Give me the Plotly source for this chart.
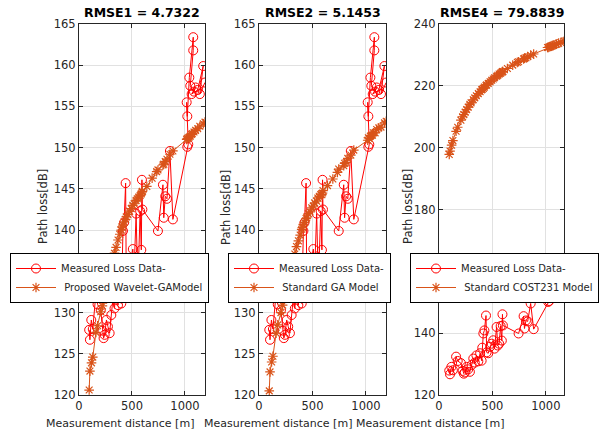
import plotly.graph_objects as go

# ---------------- data ----------------
meas_dist = [96, 103, 116, 130, 160, 175, 205, 221, 232, 242, 259, 273, 289, 305, 321,
             335, 350, 368, 385, 399, 405, 415, 425, 440, 446, 461, 478, 493, 508, 520,
             539, 550, 563, 577, 588, 594, 598, 745, 792, 800, 814, 830, 858, 886, 1022,
             1031, 1016, 1022, 1041, 1078, 1078, 1050, 1085, 1100, 1063, 1120, 1172, 1140, 1188]
meas_loss = [127.9, 126.7, 129.1, 128.0, 132.4, 131.0, 130.3, 127.8, 126.9, 127.3, 129.1,
             128.3, 127.5, 129.7, 131.8, 130.5, 132.8, 130.9, 133.5, 131.1, 135.3, 139.9,
             140.9, 145.7, 133.8, 133.5, 135.6, 136.6, 137.7, 135.0, 142.0, 136.0, 136.6,
             142.3, 137.6, 146.1, 142.5, 139.9, 145.5, 141.5, 144.1, 143.8, 149.6, 141.3,
             150.1, 150.4, 155.5, 153.8, 158.5, 163.4, 161.8, 157.5, 156.8, 157.3, 156.5,
             157.0, 159.9, 156.5, 157.9]

model_dist = [96, 103, 118, 130, 160, 175, 205, 221, 232, 245, 259, 273, 289, 300, 321,
              335, 350, 368, 385, 399, 405, 415, 425, 440, 446, 461, 478, 493, 508, 520,
              539, 550, 563, 577, 588, 594, 598, 640, 690, 733, 745, 792, 800, 814, 830,
              858, 886, 1016, 1022, 1031, 1041, 1050, 1060, 1069, 1085, 1100, 1120, 1140,
              1173, 1189]
wavelet_ga = [120.6, 122.9, 123.9, 124.6, 127.6, 128.4, 130.1, 130.8, 131.5, 132.4, 133.1,
              134.0, 135.1, 135.8, 136.5, 137.2, 137.9, 138.8, 139.5, 140.0, 140.4, 140.6,
              141.0, 141.3, 141.6, 141.9, 142.3, 142.6, 143.0, 143.2, 143.6, 143.8, 144.0,
              144.2, 144.4, 144.6, 144.7, 145.3, 146.3, 147.1, 147.3, 147.9, 148.0, 148.3,
              148.6, 149.2, 149.6, 151.0, 151.1, 151.2, 151.3, 151.4, 151.6, 151.7, 151.9,
              152.1, 152.3, 152.6, 152.9, 153.1]
standard_ga = [120.5, 122.8, 124.0, 124.7, 127.5, 128.5, 130.0, 130.9, 131.6, 132.3, 133.2,
               134.1, 135.0, 135.7, 136.6, 137.1, 138.0, 138.7, 139.4, 140.1, 140.3, 140.7,
               140.9, 141.4, 141.5, 142.0, 142.2, 142.7, 142.9, 143.3, 143.5, 143.9, 144.1,
               144.3, 144.3, 144.5, 144.8, 145.4, 146.2, 147.0, 147.4, 147.8, 148.1, 148.2,
               148.7, 149.1, 149.7, 150.9, 151.2, 151.1, 151.4, 151.5, 151.5, 151.8, 151.8,
               152.2, 152.4, 152.5, 153.0, 153.2]
cost231 = [197.8, 198.9, 200.8, 202.3, 205.3, 206.6, 208.9, 210.0, 210.7, 211.5, 212.3,
           213.1, 214.0, 214.5, 215.5, 216.1, 216.8, 217.5, 218.1, 218.7, 218.9, 219.2,
           219.6, 220.1, 220.3, 220.8, 221.3, 221.8, 222.2, 222.6, 223.1, 223.4, 223.8,
           224.1, 224.4, 224.6, 224.6, 225.6, 226.7, 227.6, 227.8, 228.7, 228.9, 229.1,
           229.4, 229.9, 230.3, 232.4, 232.4, 232.6, 232.7, 232.8, 233.0, 233.1, 233.3,
           233.5, 233.8, 234.0, 234.5, 234.6]

titles = ["RMSE1 = 4.7322", "RMSE2 = 5.1453", "RMSE4 = 79.8839"]
model_names = ["\u00a0Proposed Wavelet-GAModel", "\u00a0Standard GA Model", "\u00a0Standard COST231 Model"]
meas_name = "Measured Loss Data-"
x_label = "Measurement distance [m]"
y_label = "Path loss[dB]"

# ---------------- layout helpers ----------------
W, H = 611, 432
def fx(p):
    return p / W
def fy(p):
    return 1 - p / H

RED = "#ff0000"
ORANGE = "#d95319"
AX = "#262626"
FONT = "DejaVu Sans, Arial, sans-serif"

panels = [
    dict(model=wavelet_ga, xd=(79, 205), xmax=1189, yr=(120, 165), dt=5, ylab_x=43, xlab_x=120, leg_x=10),
    dict(model=standard_ga, xd=(259, 386), xmax=1187, yr=(120, 165), dt=5, ylab_x=226, xlab_x=278, leg_x=228),
    dict(model=cost231, xd=(439, 564), xmax=1170, yr=(120, 240), dt=20, ylab_x=408, xlab_x=430, leg_x=410),
]

fig = go.Figure()
annotations = []
for i, p in enumerate(panels):
    n = i + 1
    xa = "x" if n == 1 else f"x{n}"
    ya = "y" if n == 1 else f"y{n}"
    leg = "legend" if n == 1 else f"legend{n}"
    fig.add_trace(go.Scatter(
        x=meas_dist, y=meas_loss, xaxis=xa, yaxis=ya, legend=leg,
        mode="lines+markers", name=meas_name, cliponaxis=True,
        line=dict(color=RED, width=1),
        marker=dict(symbol="circle-open", size=9, color=RED, line=dict(width=1)),
    ))
    fig.add_trace(go.Scatter(
        x=model_dist, y=p["model"], xaxis=xa, yaxis=ya, legend=leg,
        mode="lines+markers", name=model_names[i], cliponaxis=True,
        line=dict(color=ORANGE, width=1),
        marker=dict(symbol="asterisk-open", size=8, color=ORANGE, line=dict(width=1.2, color=ORANGE)),
    ))
    axis_common = dict(
        showline=True, linecolor=AX, linewidth=1, mirror="ticks",
        ticks="inside", ticklen=4, tickcolor=AX,
        showgrid=True, gridcolor="#e1e1e1", gridwidth=1, zeroline=False,
        tickfont=dict(family=FONT, size=11.5, color=AX), automargin=False,
    )
    fig.update_layout(**{
        ("xaxis" if n == 1 else f"xaxis{n}"): dict(
            domain=[fx(p["xd"][0]), fx(p["xd"][1])], range=[0, p["xmax"]],
            tickvals=[0, 500, 1000], anchor=ya, **axis_common),
        ("yaxis" if n == 1 else f"yaxis{n}"): dict(
            domain=[fy(395), fy(24)], range=list(p["yr"]), dtick=p["dt"], tick0=p["yr"][0],
            anchor=xa, **axis_common),
        leg: dict(
            x=fx(p["leg_x"]), y=fy(278), xanchor="left", yanchor="middle",
            xref="paper", yref="paper",
            bgcolor="white", bordercolor="#000000", borderwidth=1,
            font=dict(family=FONT, size=10, color=AX),
            itemwidth=40, tracegroupgap=0,
        ),
    })
    cx = fx((p["xd"][0] + p["xd"][1]) / 2)
    annotations.append(dict(text=f"<b>{titles[i]}</b>", x=cx, y=fy(13), xref="paper", yref="paper",
                            showarrow=False, xanchor="center", yanchor="middle",
                            font=dict(family=FONT, size=12.5, color="#000000")))
    annotations.append(dict(text=x_label, x=fx(p["xlab_x"]), y=fy(423), xref="paper", yref="paper",
                            showarrow=False, xanchor="center", yanchor="middle",
                            font=dict(family=FONT, size=11, color=AX)))
    annotations.append(dict(text=y_label, x=fx(p["ylab_x"]), y=fy(207), xref="paper", yref="paper",
                            showarrow=False, xanchor="center", yanchor="middle", textangle=-90,
                            font=dict(family=FONT, size=11.5, color=AX)))

fig.update_layout(
    width=W, height=H, margin=dict(l=0, r=0, t=0, b=0, autoexpand=False),
    paper_bgcolor="white", plot_bgcolor="white",
    showlegend=True, annotations=annotations,
    font=dict(family=FONT, color=AX),
)

fig.write_html(
    "out.html",
    config={"displayModeBar": False},
    post_script="document.body.style.margin='0';document.body.style.padding='0';"
                "document.body.style.overflow='hidden';",
)
